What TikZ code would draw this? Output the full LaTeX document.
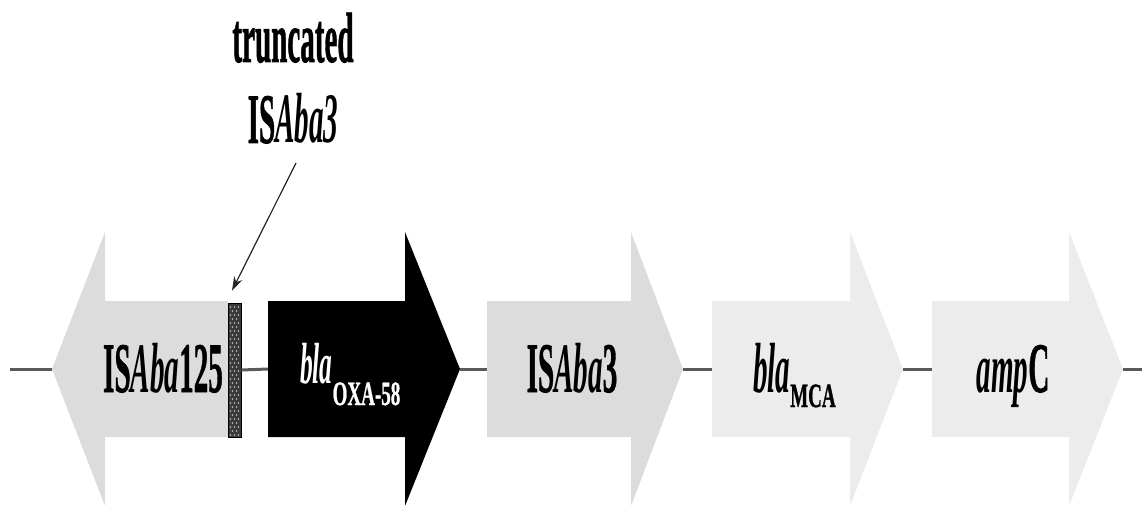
\documentclass[tikz,border=0pt]{standalone}
\usepackage{fontspec}
\setmainfont{Liberation Serif}[BoldFeatures={FakeBold=1.2}]
\usepackage{graphicx}
\usetikzlibrary{arrows.meta}
\definecolor{isgray}{HTML}{DCDCDC}
\definecolor{genegray}{HTML}{ECECEC}
\definecolor{spine}{HTML}{5A5A5A}
\definecolor{hatchfill}{HTML}{3A3A3A}
\definecolor{faintblue}{HTML}{D6DEEC}
\newcommand\bigtxt[1]{{\fontsize{71}{71}\selectfont\bfseries\scalebox{0.41}[1]{#1}}}
\newcommand\midtxt[1]{{\fontsize{58}{58}\selectfont\bfseries\scalebox{0.44}[1]{#1}}}
\newcommand\subtxt[1]{{\fontsize{34}{34}\selectfont\bfseries\scalebox{0.56}[1]{#1}}}
\tikzset{
  spineline/.style={draw=spine,line width=3pt},
  lbl/.style={inner sep=0pt,outer sep=0pt,anchor=base},
  lblw/.style={inner sep=0pt,outer sep=0pt,anchor=base west},
  hatchbox/.style={draw=black,line width=0.8pt,fill=hatchfill,minimum width=13pt,minimum height=134pt,inner sep=0pt},
  hatchdot/.style={fill=white!75!black},
  pointer/.style={draw=black!85,line width=1.2pt,-{Stealth[length=14pt,width=9pt]}}
}
\begin{document}
\begin{tikzpicture}[x=1pt,y=-1pt]
\useasboundingbox (0,0) rectangle (1142,505);
% gene arrows
\fill[isgray] (52,369) -- (105,232) -- (105,301) -- (228,301) -- (228,437) -- (105,437) -- (105,506) -- cycle;
\draw[faintblue,line width=0.8pt] (95,313) rectangle (228,427);
\fill[black] (268,301) -- (405,301) -- (405,232) -- (460,369) -- (405,506) -- (405,437) -- (268,437) -- cycle;
\fill[isgray] (487,301) -- (631,301) -- (631,232) -- (683,369) -- (631,506) -- (631,437) -- (487,437) -- cycle;
\fill[genegray] (712,301) -- (850,301) -- (850,232) -- (903,369) -- (850,506) -- (850,437) -- (712,437) -- cycle;
\fill[genegray] (932,301) -- (1069,301) -- (1069,232) -- (1123,369) -- (1069,506) -- (1069,437) -- (932,437) -- cycle;
% coordinates on the spine
\coordinate (s0) at (10,369);
\coordinate (isL) at (52,369);
\coordinate (oxaL) at (268,369);
\coordinate (oxaR) at (460,369);
\coordinate (is3L) at (487,369);
\coordinate (is3R) at (683,369);
\coordinate (mcaL) at (712,369);
\coordinate (mcaR) at (903,369);
\coordinate (ampL) at (932,369);
\coordinate (ampR) at (1123,369);
\coordinate (s1) at (1142,369);
% truncated box
\node[hatchbox] (trunc) at (234.5,370) {};
\foreach \r in {0,...,32}{
  \pgfmathsetmacro\yy{307+4*\r}
  \ifodd\r
    \fill[hatchdot] (232.5,\yy) circle (0.8);
    \fill[hatchdot] (236.5,\yy) circle (0.8);
  \else
    \fill[hatchdot] (230.5,\yy) circle (0.8);
    \fill[hatchdot] (234.5,\yy) circle (0.8);
    \fill[hatchdot] (238.5,\yy) circle (0.8);
  \fi
}
% spine segments
\draw[spineline] (s0) -- (isL);
\draw[spineline] (trunc.east) -- (oxaL);
\draw[spineline] (oxaR) -- (is3L);
\draw[spineline] (is3R) -- (mcaL);
\draw[spineline] (mcaR) -- (ampL);
\draw[spineline] (ampR) -- (s1);
% labels
\node[lbl] (l125) at (163,392) {\bigtxt{IS\textit{Aba}125}};
\node[lblw,text=white] (loxa) at (300,383) {\midtxt{\textit{bla}}\raisebox{-22pt}{\subtxt{OXA-58}}};
\node[lbl] (lis3) at (572,392) {\bigtxt{IS\textit{Aba}3}};
\node[lblw] (lmca) at (753,392) {\bigtxt{\textit{bla}}\raisebox{-15pt}{\subtxt{MCA}}};
\node[lbl] (lamp) at (1013,392) {\bigtxt{\textit{amp}C}};
\node[lbl] (ltop1) at (293,62) {\bigtxt{truncated}};
\node[lbl] (ltop2) at (293,143) {\bigtxt{IS\textit{Aba3}}};
% pointer
\coordinate (pstart) at (296,163);
\draw[pointer] (pstart) -- ([xshift=-2.5pt,yshift=12pt]trunc.north);
\end{tikzpicture}
\end{document}
